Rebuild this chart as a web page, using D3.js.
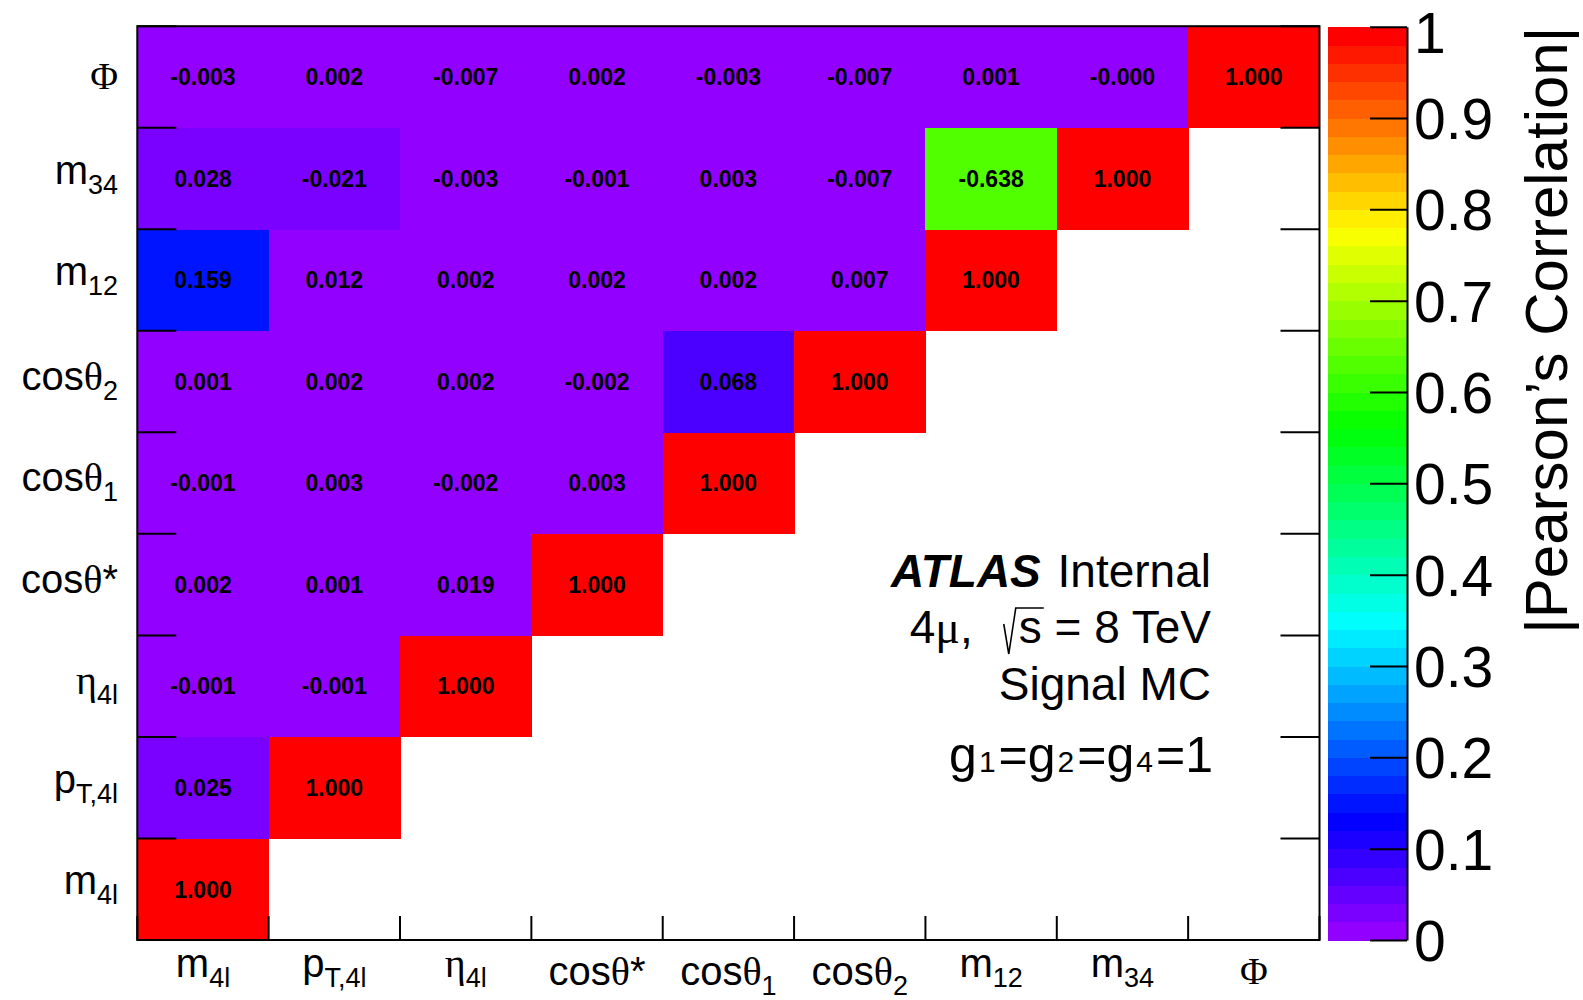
<!DOCTYPE html>
<html>
<head>
<meta charset="utf-8">
<script src="https://cdn.jsdelivr.net/npm/d3@7"></script>
<style>
  body { margin: 0; background: #fff; }
  svg { display: block; }
</style>
</head>
<body>
<svg id="chart" width="1583" height="1000"></svg>
<script>
// Kinematic variables of the H -> ZZ* -> 4l analysis, bottom-to-top / left-to-right
const variables = ["m4l", "pT4l", "eta4l", "cosThetaStar", "cosTheta1", "cosTheta2", "m12", "m34", "Phi"];

// Axis label pieces: [text, kind]; kind "sub" = subscript, "g" = Greek glyph, "phi" = capital Phi
const labelM4l = [["m"], ["4l", "sub"]];
const labelPT4l = [["p"], ["T,4l", "sub"]];
const labelEta4l = [["η", "g"], ["4l", "sub"]];
const labelCosThetaStar = [["cos"], ["θ", "g"], ["*"]];
const labelCosTheta1 = [["cos"], ["θ", "g"], ["1", "sub"]];
const labelCosTheta2 = [["cos"], ["θ", "g"], ["2", "sub"]];
const labelM12 = [["m"], ["12", "sub"]];
const labelM34 = [["m"], ["34", "sub"]];
const labelPhi = [["Φ", "phi"]];
const axisLabels = [labelM4l, labelPT4l, labelEta4l, labelCosThetaStar, labelCosTheta1,
                    labelCosTheta2, labelM12, labelM34, labelPhi];

// Pearson correlation coefficients, one row per variable (columns in the same order)
const corrM4l = [1.000];
const corrPT4l = [0.025, 1.000];
const corrEta4l = [-0.001, -0.001, 1.000];
const corrCosThetaStar = [0.002, 0.001, 0.019, 1.000];
const corrCosTheta1 = [-0.001, 0.003, -0.002, 0.003, 1.000];
const corrCosTheta2 = [0.001, 0.002, 0.002, -0.002, 0.068, 1.000];
const corrM12 = [0.159, 0.012, 0.002, 0.002, 0.002, 0.007, 1.000];
const corrM34 = [0.028, -0.021, -0.003, -0.001, 0.003, -0.007, -0.638, 1.000];
const corrPhi = [-0.003, 0.002, -0.007, 0.002, -0.003, -0.007, 0.001, -0.0004, 1.000];
const corrRows = [corrM4l, corrPT4l, corrEta4l, corrCosThetaStar, corrCosTheta1,
                  corrCosTheta2, corrM12, corrM34, corrPhi];

// Colour bar ticks
const colorbarTicks = [0, 0.1, 0.2, 0.3, 0.4, 0.5, 0.6, 0.7, 0.8, 0.9, 1];

const SANS = "'Liberation Sans', Arial, Helvetica, sans-serif";
const SERIF = "'Liberation Serif', 'Times New Roman', serif";

const svg = d3.select("#chart");
const frame = { left: 137.3, right: 1319.5, top: 26.2, bottom: 940 };

const x = d3.scaleBand().domain(variables).range([frame.left, frame.right]);
const y = d3.scaleBand().domain(variables).range([frame.bottom, frame.top]);
const bw = x.bandwidth(), bh = y.bandwidth();

// "Pretty" violet -> red palette with 50 levels (HLS hue scan, full saturation)
const nLevels = 50;
const palette = d3.range(nLevels).map(i => d3.hsl(280 - (i + 1) * 280 / nLevels, 1, 0.5).formatHex());
const color = d3.scaleThreshold()
  .domain(d3.range(1, nLevels).map(k => k / nLevels))
  .range(palette);

// Cells of the lower triangle
const cells = variables.flatMap((rowVar, j) =>
  corrRows[j].map((v, i) => ({ row: rowVar, col: variables[i], value: v })));

const cellG = svg.append("g");
cellG.selectAll("rect").data(cells).join("rect")
  .attr("x", d => x(d.col))
  .attr("y", d => y(d.row))
  .attr("width", bw + 0.5)
  .attr("height", bh + 0.5)
  .attr("fill", d => color(Math.abs(d.value) + 0.0002))
  .attr("shape-rendering", "crispEdges");

cellG.selectAll("text").data(cells).join("text")
  .attr("x", d => x(d.col) + bw / 2)
  .attr("y", d => y(d.row) + bh / 2)
  .attr("dy", "0.36em")
  .attr("text-anchor", "middle")
  .attr("font-family", SANS)
  .attr("font-weight", "bold")
  .attr("font-size", 23)
  .text(d => d.value.toFixed(3));

// Frame and bin-edge ticks
const axG = svg.append("g").attr("stroke", "#000").attr("fill", "none");
axG.append("rect")
  .attr("x", frame.left).attr("y", frame.top)
  .attr("width", frame.right - frame.left).attr("height", frame.bottom - frame.top)
  .attr("stroke-width", 2);

const rowEdges = variables.map(v => y(v)).concat([frame.bottom]);
const colEdges = variables.map(v => x(v)).concat([frame.right]);

axG.selectAll(".ltick").data(rowEdges).join("line")
  .attr("x1", frame.left).attr("x2", frame.left + 39)
  .attr("y1", d => d).attr("y2", d => d).attr("stroke-width", 2);
axG.selectAll(".rtick").data(rowEdges).join("line")
  .attr("x1", frame.right - 39).attr("x2", frame.right)
  .attr("y1", d => d).attr("y2", d => d).attr("stroke-width", 2);
axG.selectAll(".btick").data(colEdges).join("line")
  .attr("x1", d => d).attr("x2", d => d)
  .attr("y1", frame.bottom).attr("y2", frame.bottom - 24).attr("stroke-width", 2);

function writeLabel(sel, segs) {
  segs.forEach(([t, kind]) => {
    const ts = sel.append("tspan").text(t);
    if (kind === "sub") ts.attr("font-size", 27).attr("dy", 10);
    else if (kind === "g") ts.attr("font-family", SERIF);
    else if (kind === "phi") ts.attr("font-family", SERIF).attr("font-size", 38).attr("dy", 7);
  });
}
const hasTheta = segs => segs.some(s => s[0] === "θ");
const isTall = segs => segs.some(s => s[1] === "g");

// Row labels
variables.forEach((v, i) => {
  const segs = axisLabels[i];
  const t = svg.append("text")
    .attr("x", 118)
    .attr("y", y(v) + bh / 2 + (isTall(segs) ? 8 : 5))
    .attr("text-anchor", "end")
    .attr("font-family", SANS)
    .attr("font-size", 40);
  writeLabel(t, segs);
});

// Column labels
variables.forEach((v, i) => {
  const segs = axisLabels[i];
  const t = svg.append("text")
    .attr("x", x(v) + bw / 2)
    .attr("y", 977 + (hasTheta(segs) ? 8 : 0))
    .attr("text-anchor", "middle")
    .attr("font-family", SANS)
    .attr("font-size", 40);
  writeLabel(t, segs);
});

// Colour bar
const cb = { left: 1328, right: 1407, top: 26.7, bottom: 940 };
const cScale = d3.scaleLinear().domain([0, 1]).range([cb.bottom, cb.top]);
svg.append("g").selectAll("rect").data(palette).join("rect")
  .attr("x", cb.left)
  .attr("width", cb.right - cb.left)
  .attr("y", (d, k) => cScale((k + 1) / nLevels))
  .attr("height", (d, k) => cScale(k / nLevels) - cScale((k + 1) / nLevels) + 0.6)
  .attr("fill", d => d)
  .attr("shape-rendering", "crispEdges");

const cAxis = svg.append("g")
  .attr("transform", `translate(${cb.right},0)`)
  .call(d3.axisRight(cScale)
    .tickValues(colorbarTicks)
    .tickSize(-37)
    .tickSizeOuter(0)
    .tickPadding(7)
    .tickFormat(d3.format(".1~f")));
cAxis.select(".domain").attr("stroke-width", 2);
cAxis.selectAll(".tick line").attr("stroke-width", 2);
cAxis.selectAll(".tick text")
  .attr("font-family", SANS)
  .attr("font-size", 57)
  .attr("dy", "0.36em")
  .attr("fill", "#000");
// keep the topmost label inside the page
cAxis.selectAll(".tick text").filter(d => d === 1).attr("y", 5);

svg.append("text")
  .attr("transform", `translate(1567,${cb.top}) rotate(-90)`)
  .attr("text-anchor", "end")
  .attr("font-family", SANS)
  .attr("font-size", 60)
  .text("|Pearson’s Correlation|");

// Plot annotations
const annX = 1211;
const ann = svg.append("g").attr("font-family", SANS).attr("font-size", 46).attr("text-anchor", "end");

const l1 = ann.append("text").attr("x", annX).attr("y", 587);
l1.append("tspan").attr("font-weight", "bold").attr("font-style", "italic").text("ATLAS");
l1.append("tspan").attr("dx", 4).text(" Internal");

const l2Base = 643;
const l2 = ann.append("text").attr("x", annX).attr("y", l2Base);
l2.append("tspan").text("4");
l2.append("tspan").attr("font-family", SERIF).text("μ");
l2.append("tspan").text(",");
l2.append("tspan").attr("dx", 46).text("s").attr("id", "sqrt-arg");
l2.append("tspan").text(" = 8 TeV");

// radical sign over "s"
const sb = document.getElementById("sqrt-arg").getBBox();
const sx = sb.x;
svg.append("path")
  .attr("d", `M${sx - 15},${l2Base - 19} L${sx - 10},${l2Base + 11} L${sx - 3},${l2Base - 35} L${sx + sb.width + 2},${l2Base - 35}`)
  .attr("fill", "none").attr("stroke", "#000").attr("stroke-width", 1.6);

ann.append("text").attr("x", annX).attr("y", 700).text("Signal MC");

const l4 = ann.append("text").attr("x", annX + 2).attr("y", 772).attr("font-size", 50);
[["g"], ["1", "s"], ["=g"], ["2", "s"], ["=g"], ["4", "s"], ["=1"]].forEach(([t, k]) => {
  const ts = l4.append("tspan").text(t);
  if (k === "s") ts.attr("font-size", 30).attr("dx", 2);
  else if (t !== "g") ts.attr("dx", 3);
});
</script>
</body>
</html>
